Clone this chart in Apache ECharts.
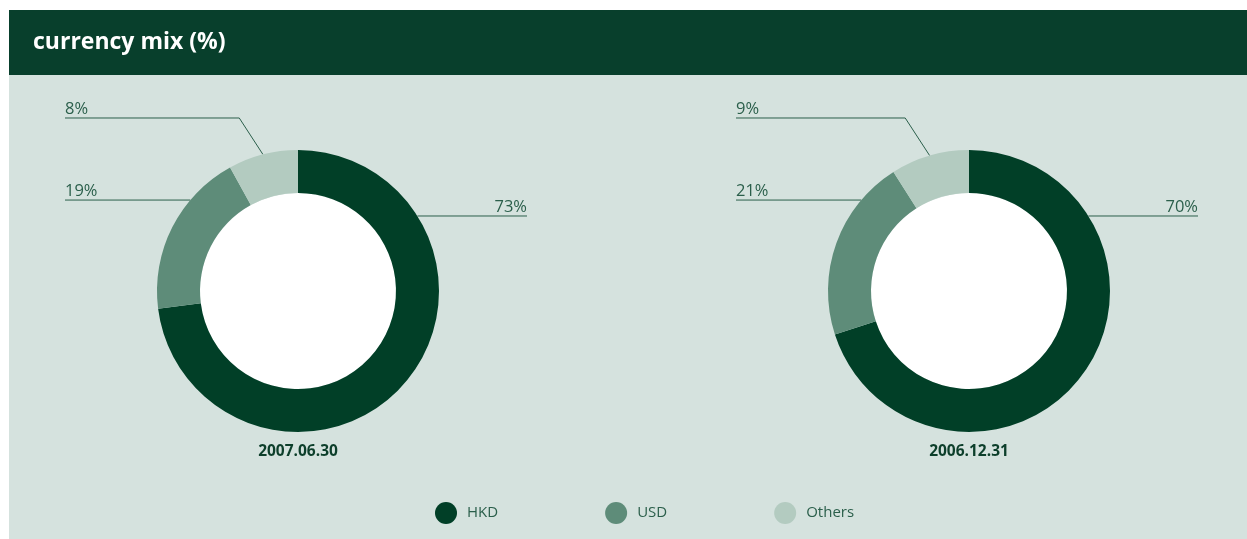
<!DOCTYPE html>
<html>
<head>
<meta charset="utf-8">
<script src="https://cdn.jsdelivr.net/npm/echarts@6/dist/echarts.min.js"></script>
<style>
    html, body {
        margin: 0;
        padding: 0;
        background: #ffffff;
    }

    #mix-chart {
        width: 1247px;
        height: 539px;
    }
</style>
</head>
<body>
<div id="mix-chart"></div>
<script>
// data
const categories = ['HKD', 'USD', 'Others'];
const mixJun2007 = [73, 19, 8];
const mixDec2006 = [70, 21, 9];
const dates = ['2007.06.30', '2006.12.31'];

const colors = ['#013f27', '#5e8c79', '#b3cbc0'];
const textGreen = '#2b5f4b';
const fontFamily = '"Open Sans", "Noto Sans", sans-serif';

// layout of the two donuts
const centers = [[298, 291], [969, 291]];
const rIn = 98;
const rOut = 141;
const edgeLeft = 233;
const edgeRight = 229;
// how high each label line sits above the centre (in outer radii)
const lineLevels = [0.532, 0.645, 1.227];

const seriesValues = [mixJun2007, mixDec2006];

const chartDom = document.getElementById('mix-chart');
const mixChart = echarts.init(chartDom);

function makeLayout(k) {
    const values = seriesValues[k];
    const total = values.reduce((a, b) => a + b, 0);
    const [cx, cy] = centers[k];
    return function (params) {
        const i = params.dataIndex;
        let cum = 0;
        for (let j = 0; j < i; j++) cum += values[j];
        const mid = (cum + values[i] / 2) / total * Math.PI * 2;
        const onRight = Math.sin(mid) > 0;
        const lineY = cy - lineLevels[i] * rOut;
        const edgeX = onRight ? cx + edgeRight : cx - edgeLeft;
        let pts;
        if (lineLevels[i] < 1) {
            // straight line that just touches the ring
            const h = lineLevels[i] * rOut;
            const dx = Math.sqrt(rOut * rOut - h * h);
            const ax = onRight ? cx + dx : cx - dx;
            pts = [[ax, lineY], [ax, lineY], [edgeX, lineY]];
        } else {
            // leader from the middle of the slice
            const p0 = [cx + rOut * Math.sin(mid), cy - rOut * Math.cos(mid)];
            const bendX = p0[0] + (onRight ? 1 : -1) * (p0[1] - lineY) * 0.65;
            pts = [p0, [bendX, lineY], [edgeX, lineY]];
        }
        return {
            x: edgeX,
            y: lineY,
            align: onRight ? 'right' : 'left',
            verticalAlign: 'bottom',
            labelLinePoints: pts
        };
    };
}

function donutSeries(k) {
    return {
        type: 'pie',
        name: dates[k],
        center: centers[k],
        radius: [rIn, rOut],
        startAngle: 90,
        clockwise: true,
        avoidLabelOverlap: false,
        emphasis: { scale: false },
        data: categories.map((c, i) => ({
            name: c,
            value: seriesValues[k][i],
            itemStyle: { color: colors[i] }
        })),
        label: {
            show: true,
            position: 'outside',
            formatter: '{c}%',
            fontSize: 16.5,
            color: textGreen,
            fontFamily: fontFamily
        },
        labelLine: {
            show: true,
            lineStyle: { color: textGreen, width: 1 }
        },
        labelLayout: makeLayout(k)
    };
}

function holeSeries(k) {
    return {
        type: 'pie',
        silent: true,
        center: centers[k],
        radius: [0, rIn],
        label: { show: false },
        labelLine: { show: false },
        data: [{ name: 'hole', value: 1, itemStyle: { color: '#ffffff' } }]
    };
}

const mixChartOpt = {
    animation: false,
    graphic: [
        {
            type: 'rect',
            z: -10,
            shape: { x: 9, y: 10, width: 1238, height: 529 },
            style: { fill: '#d5e2de' }
        },
        {
            type: 'rect',
            z: -9,
            shape: { x: 9, y: 10, width: 1238, height: 65 },
            style: { fill: '#083f2c' }
        }
    ],
    title: [
        {
            text: 'currency mix (%)',
            left: 33,
            top: 31,
            padding: 0,
            textStyle: {
                color: '#ffffff',
                fontSize: 23,
                fontWeight: 'bold',
                fontFamily: fontFamily
            }
        },
        ...dates.map((d, k) => ({
            text: d,
            left: centers[k][0],
            top: 444,
            padding: 0,
            textAlign: 'center',
            textStyle: {
                color: '#0d3f2b',
                fontSize: 15.5,
                fontWeight: 'bold',
                fontFamily: fontFamily
            }
        }))
    ],
    legend: {
        data: categories,
        left: 430,
        top: 497,
        icon: 'circle',
        itemWidth: 22,
        itemHeight: 22,
        itemGap: 107,
        selectedMode: false,
        textStyle: {
            color: textGreen,
            fontSize: 15,
            fontFamily: fontFamily,
            width: 40,
            padding: [0, 0, 0, 5]
        }
    },
    series: [holeSeries(0), holeSeries(1), donutSeries(0), donutSeries(1)]
};

mixChart.setOption(mixChartOpt);
</script>
</body>
</html>
